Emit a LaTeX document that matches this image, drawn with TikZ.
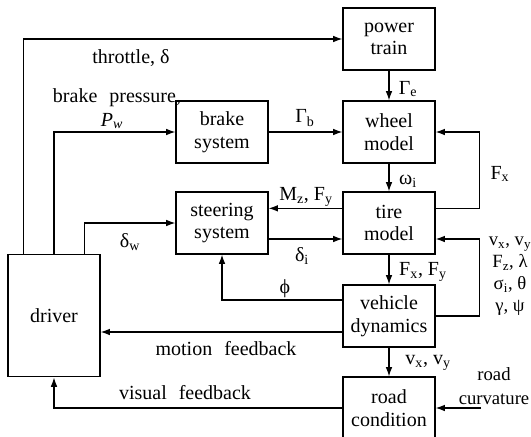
\documentclass[tikz,border=0pt]{standalone}
\usepackage{fontspec}
\setmainfont{Liberation Serif}
\usetikzlibrary{arrows.meta, positioning}
\newcommand{\lsub}[1]{\textsubscript{#1}}
\tikzset{
  every picture/.style={line width=0.9pt},
  block/.style={draw, minimum width=69pt, minimum height=46.5pt, align=center, inner sep=2pt, font=\fontsize{15}{17}\selectfont},
  arrow/.style={-{Latex[length=7pt, width=5pt]}},
  lbl/.style={font=\fontsize{15}{17}\selectfont, inner sep=1pt},
}

\begin{document}
\begin{tikzpicture}[x=0.75pt, y=-0.75pt]
  \useasboundingbox (0,0) rectangle (531,436);
  % blocks
  \node[block] (power) at (389,39) {power\\train};
  \node[block] (wheel) at (389,132) {wheel\\model};
  \node[block] (tire) at (389,223) {tire\\model};
  \node[block] (vehicle) at (389,316) {vehicle\\dynamics};
  \node[block] (road) at (389,408) {road\\condition};
  \node[block] (brake) at (222,132) {brake\\system};
  \node[block] (steering) at (222,223) {steering\\system};
  \node[block, minimum height=92pt] (driver) at (54,315.5) {driver};
  \coordinate (curv) at (481,408);
  % driver commands
  \draw[arrow] ([xshift=12pt]driver.north west) |- (power.west);
  \draw[arrow] (driver.north) |- (brake.west);
  \draw[arrow] ([xshift=-12pt]driver.north east) |- (steering.west);
  % vertical chain
  \draw[arrow] (power) -- (wheel);
  \draw[arrow] (brake) -- (wheel);
  \draw[arrow] (wheel) -- (tire);
  \draw[arrow] (tire) -- (vehicle);
  \draw[arrow] (vehicle) -- (road);
  % feedback loops
  \draw[arrow] ([yshift=11pt]tire.east) -- ++(44,0) |- (wheel.east);
  \draw[arrow] ([yshift=11pt]tire.west) -- ([yshift=11pt]steering.east);
  \draw[arrow] ([yshift=-12pt]steering.east) -- ([yshift=-12pt]tire.west);
  \draw[arrow] (vehicle.east) -- ++(44,0) |- ([yshift=-12pt]tire.east);
  \draw[arrow] ([yshift=12pt]vehicle.west) -| (steering.south);
  \draw[arrow] ([yshift=-12pt]vehicle.west) -- ([yshift=-12pt]vehicle.west -| driver.east);
  \draw[arrow] (road.west) -| (driver.south);
  \draw[arrow] (curv) -- (road.east);
  % labels
  \node[lbl] (lthr) at (131,58) {throttle, δ};
  \node[lbl] (lbp) at (117,98) {brake\hspace{0.6em}pressure,};
  \node[lbl] (lpw) at (112,121) {\textit{P\lsub{w}}};
  \node[lbl] (ldw) at (130,242) {δ\lsub{w}};
  \node[lbl] (lge) at (408,89) {Γ\lsub{e}};
  \node[lbl] (lgb) at (305,118) {Γ\lsub{b}};
  \node[lbl] (lwi) at (408,181) {ω\lsub{i}};
  \node[lbl] (lfx) at (500,174) {F\lsub{x}};
  \node[lbl] (lmz) at (306,197) {M\lsub{z}, F\lsub{y}};
  \node[lbl] (ldi) at (302,256) {δ\lsub{i}};
  \node[lbl] (lfxy) at (423,272) {F\lsub{x}, F\lsub{y}};
  \node[lbl] (lphi) at (285,289) {ϕ};
  \node[lbl] (lvxy) at (428,363) {v\lsub{x}, v\lsub{y}};
  \node[lbl] (lmot) at (226,349) {motion\hspace{0.6em}feedback};
  \node[lbl] (lvis) at (185,393) {visual\hspace{0.6em}feedback};
  \node[lbl, align=center, font=\fontsize{14}{18.5}\selectfont] (lcurv) at (494,386) {road\\curvature};
  \node[lbl, align=center, font=\fontsize{14}{16.5}\selectfont] (lstate) at (510,276) {v\lsub{x}, v\lsub{y}\\F\lsub{z}, λ\\σ\lsub{i}, θ\\γ, ψ};
\end{tikzpicture}
\end{document}
